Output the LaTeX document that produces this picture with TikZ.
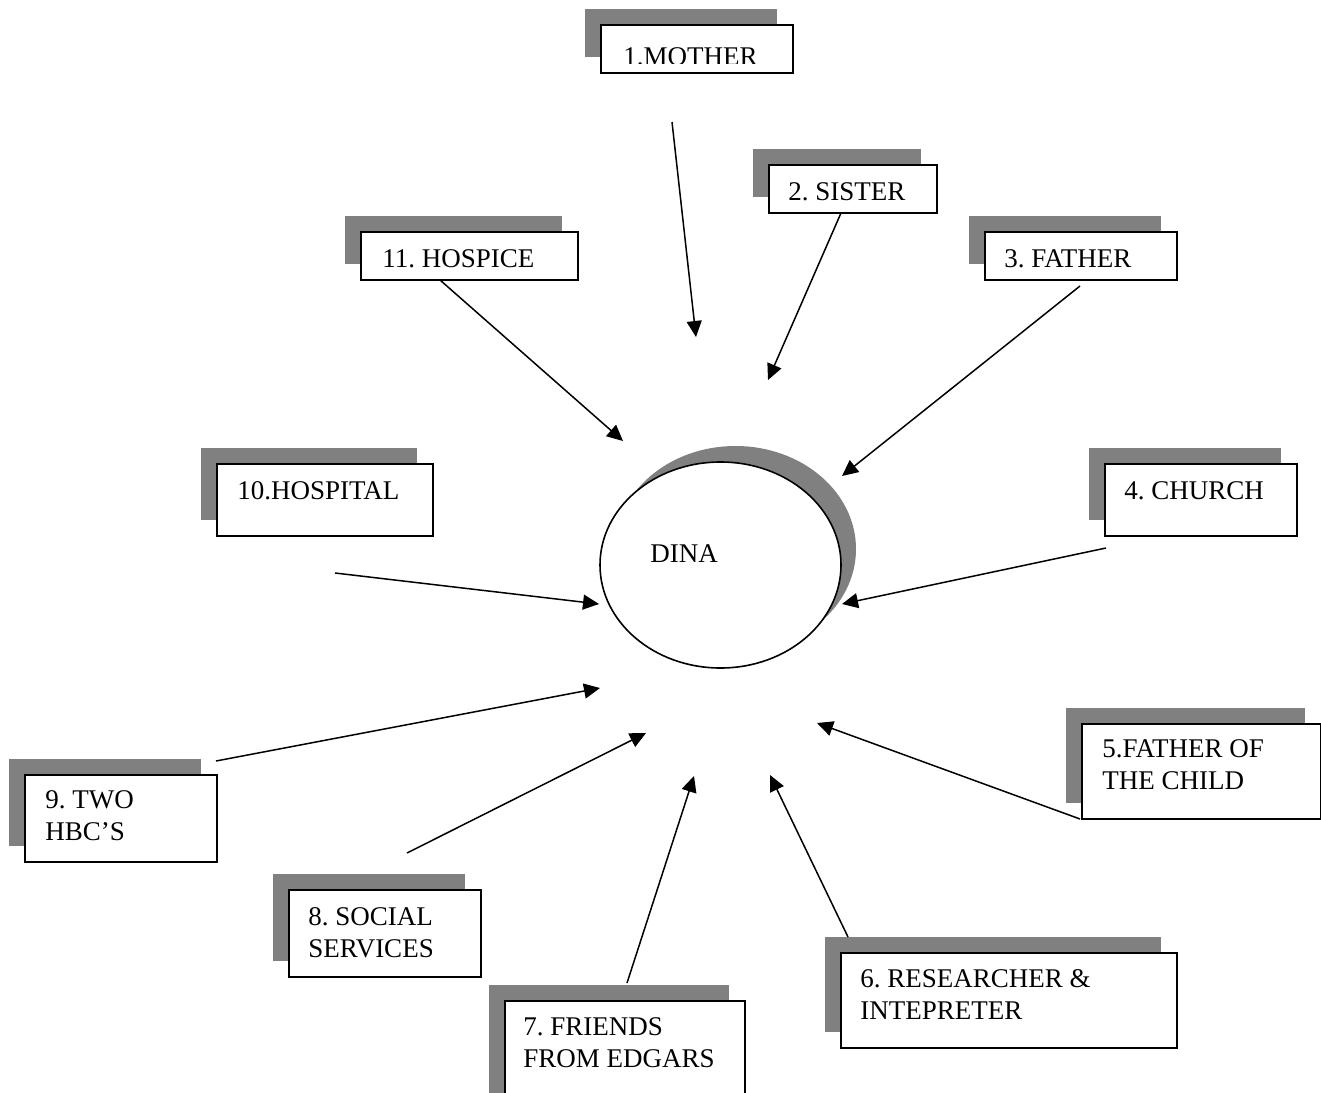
\documentclass[tikz,border=0pt]{standalone}
\usepackage{fontspec}
\setmainfont{Liberation Serif}
\usetikzlibrary{arrows.meta,shadows,shapes.geometric}
\definecolor{shadowgray}{HTML}{808080}
\frenchspacing
\tikzset{
  boxst/.style={draw=black, line width=1pt, fill=white, inner sep=0pt, anchor=north west,
    drop shadow={shadow xshift=-8pt, shadow yshift=8pt, fill=shadowgray, opacity=1}},
  lbl/.style={inner sep=0pt, anchor=base west, font=\fontsize{13.5}{16}\selectfont\frenchspacing},
  arr/.style={-{Triangle[length=8pt,width=7.5pt]}, line width=0.75pt},
  ellst/.style={ellipse, draw=black, line width=0.8pt, fill=white, inner sep=0pt,
    drop shadow={shadow xshift=7.5pt, shadow yshift=8pt, fill=shadowgray, opacity=1}},
}
\newcommand{\mkbox}[5]{\node[boxst, minimum width={(#4-#2)*0.5pt}, minimum height={(#5-#3)*0.5pt}] (#1) at (#2,#3) {};}
\newcommand{\twol}[2]{\begin{tabular}[t]{@{}l@{}}#1\\#2\end{tabular}}
\begin{document}
\begin{tikzpicture}[x=0.5pt,y=-0.5pt]
\useasboundingbox (0,0) rectangle (1321,1092);
% boxes
\mkbox{mother}{600}{24}{792}{72}
\begin{scope}
\clip (601,25) rectangle (791,63);
\node[lbl] (mothert) at (623,65) {1.MOTHER};
\end{scope}
\mkbox{sister}{768}{164}{936}{212}
\node[lbl] (sistert) at (788,200) {2. SISTER};
\mkbox{father}{984}{231}{1176}{279}
\node[lbl] (fathert) at (1004,267) {3. FATHER};
\mkbox{hospice}{360}{231}{577}{279}
\node[lbl] (hospicet) at (382,267) {11. HOSPICE};
\mkbox{hospital}{216}{463}{432}{535}
\node[lbl] (hospitalt) at (237,499) {10.HOSPITAL};
\mkbox{church}{1104}{463}{1296}{535}
\node[lbl] (churcht) at (1124,499) {4. CHURCH};
\mkbox{fchild}{1081}{723}{1320}{818}
\node[lbl] (fchildt) at (1102,757) {\twol{5.FATHER OF}{THE CHILD}};
\mkbox{hbc}{24}{774}{216}{861}
\node[lbl] (hbct) at (45,808) {\twol{9. TWO}{HBC'S}};
\mkbox{social}{288}{889}{480}{976}
\node[lbl] (socialt) at (308,925) {\twol{8. SOCIAL}{SERVICES}};
\mkbox{friends}{504}{1000}{744}{1110}
\node[lbl] (friendst) at (523,1035) {\twol{7. FRIENDS}{FROM EDGARS}};
\mkbox{research}{840}{952}{1176}{1047}
\node[lbl] (researcht) at (860,987) {\twol{6. RESEARCHER \&}{INTEPRETER}};
% central ellipse
\node[ellst, minimum width=120.5pt, minimum height=103pt] (dina) at (720.5,565) {};
\node[lbl] (dinat) at (650,562) {DINA};
% arrow end points
\coordinate (s1) at (672,122);  \coordinate (e1) at (696,337);
\coordinate (s2) at (841,213);  \coordinate (e2) at (768,380);
\coordinate (s3) at (1080,286); \coordinate (e3) at (842,476);
\coordinate (s4) at (1106,548); \coordinate (e4) at (842,604);
\coordinate (s5) at (1080,819); \coordinate (e5) at (817,723);
\coordinate (s6) at (848,937);  \coordinate (e6) at (770,775);
\coordinate (s7) at (627,983);  \coordinate (e7) at (694,776);
\coordinate (s8) at (407,853);  \coordinate (e8) at (646,733);
\coordinate (s9) at (216,761);  \coordinate (e9) at (600,688);
\coordinate (s10) at (335,573); \coordinate (e10) at (599,604);
\coordinate (s11) at (440,280); \coordinate (e11) at (623,441);
\foreach \i in {1,...,11} {\draw[arr] (s\i) -- (e\i);}
\end{tikzpicture}
\end{document}
